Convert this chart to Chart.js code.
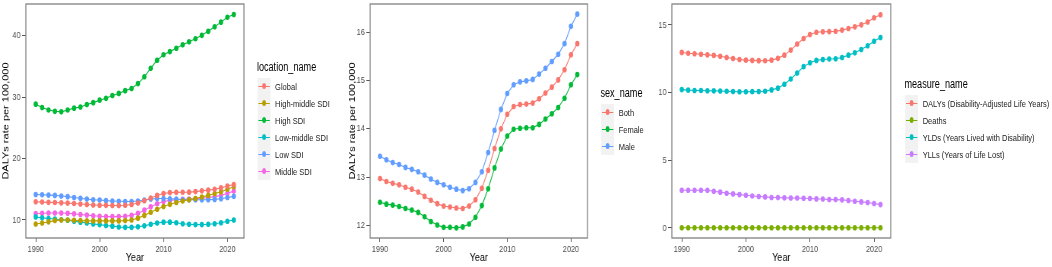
<!DOCTYPE html>
<html>
<head>
<meta charset="utf-8">
<script src="https://cdn.jsdelivr.net/npm/chart.js@4"></script>
<style>
  body { margin: 0; background: #fff; overflow: hidden; }
  #fig { position: absolute; left: 0; top: 0; width: 1384px; height: 267px;
         transform: scaleX(0.76); transform-origin: 0 0;
         font-family: "Liberation Sans", Arial, sans-serif; }
  #fig canvas { position: absolute; top: 0; }
  .lg-title { position: absolute; font-size: 12px; line-height: 14px; color: #000; white-space: nowrap; }
  .lg-key { position: absolute; width: 17px; height: 17px; background: #f2f2f2; }
  .lg-key .ln { position: absolute; left: 1px; right: 1px; top: 8px; height: 1.1px; }
  .lg-key .pt { position: absolute; left: 5.7px; top: 5.7px; width: 5.8px; height: 5.8px; border-radius: 50%; }
  .lg-text { position: absolute; font-size: 9.9px; line-height: 17px; color: #1a1a1a; white-space: nowrap; }
</style>
</head>
<body>
<div id="fig">
  <canvas id="c1" width="325" height="267" style="left:0px"></canvas>
  <canvas id="c2" width="321" height="267" style="left:456px"></canvas>
  <canvas id="c3" width="314" height="267" style="left:862px"></canvas>
</div>
<script>
const years = [1990, 1991, 1992, 1993, 1994, 1995, 1996, 1997, 1998, 1999, 2000, 2001, 2002, 2003, 2004, 2005,
  2006, 2007, 2008, 2009, 2010, 2011, 2012, 2013, 2014, 2015, 2016, 2017, 2018, 2019, 2020, 2021];
const yearTicks = [1990, 2000, 2010, 2020];

// panel 1: by location
const locationNames = ['Global', 'High-middle SDI', 'High SDI', 'Low-middle SDI', 'Low SDI', 'Middle SDI'];
const locationColors = ['#F8766D', '#B79F00', '#00BA38', '#00BFC4', '#619CFF', '#F564E3'];
const globalRate = [12.97, 12.91, 12.87, 12.84, 12.79, 12.75, 12.69, 12.60, 12.52, 12.45, 12.40, 12.38, 12.36, 12.35, 12.40, 12.53,
  12.77, 13.14, 13.59, 14.00, 14.30, 14.46, 14.50, 14.51, 14.53, 14.62, 14.74, 14.86, 15.01, 15.22, 15.53, 15.76];
const highMiddleRate = [9.35, 9.5, 9.7, 9.9, 10.0, 10.0, 9.95, 9.9, 9.85, 9.85, 9.85, 9.85, 9.85, 9.85, 9.9, 10.0,
  10.3, 10.75, 11.25, 11.75, 12.2, 12.55, 12.85, 13.1, 13.3, 13.5, 13.75, 14.0, 14.3, 14.6, 15.0, 15.4];
const highRate = [28.85, 28.3, 27.9, 27.7, 27.6, 27.9, 28.2, 28.4, 28.8, 29.1, 29.5, 29.8, 30.25, 30.6, 31.05, 31.4,
  32.2, 33.3, 34.7, 36.0, 36.9, 37.4, 37.95, 38.5, 39.0, 39.5, 40.05, 40.7, 41.45, 42.2, 43.0, 43.45];
const lowMiddleRate = [10.5, 10.35, 10.25, 10.15, 10.05, 9.95, 9.8, 9.65, 9.5, 9.35, 9.25, 9.1, 9.0, 8.85, 8.8, 8.8,
  8.9, 9.05, 9.3, 9.5, 9.65, 9.65, 9.55, 9.4, 9.3, 9.25, 9.25, 9.3, 9.4, 9.55, 9.8, 10.0];
const lowRate = [14.15, 14.1, 14.05, 14.0, 13.9, 13.8, 13.65, 13.55, 13.4, 13.3, 13.25, 13.15, 13.1, 13.05, 13.0, 13.0,
  13.1, 13.25, 13.4, 13.5, 13.5, 13.45, 13.4, 13.3, 13.3, 13.3, 13.3, 13.3, 13.35, 13.45, 13.65, 13.85];
const middleRate = [11.05, 11.1, 11.15, 11.15, 11.15, 11.1, 11.0, 10.9, 10.8, 10.7, 10.6, 10.55, 10.55, 10.55, 10.6, 10.75,
  11.1, 11.6, 12.15, 12.65, 13.0, 13.2, 13.3, 13.35, 13.4, 13.45, 13.55, 13.65, 13.8, 14.0, 14.35, 14.7];

// panel 2: by sex
const sexNames = ['Both', 'Female', 'Male'];
const sexColors = ['#F8766D', '#00BA38', '#619CFF'];
const bothRate = [12.97, 12.91, 12.87, 12.84, 12.79, 12.75, 12.69, 12.60, 12.52, 12.45, 12.40, 12.38, 12.36, 12.35, 12.40, 12.53,
  12.77, 13.14, 13.59, 14.00, 14.30, 14.46, 14.50, 14.51, 14.53, 14.62, 14.74, 14.86, 15.01, 15.22, 15.53, 15.76];
const femaleRate = [12.48, 12.44, 12.42, 12.39, 12.35, 12.32, 12.27, 12.18, 12.08, 12.01, 11.96, 11.96, 11.95, 11.97, 12.03, 12.17,
  12.41, 12.76, 13.19, 13.58, 13.85, 13.99, 14.01, 14.02, 14.02, 14.09, 14.20, 14.31, 14.44, 14.63, 14.91, 15.12];
const maleRate = [13.43, 13.36, 13.30, 13.26, 13.20, 13.16, 13.11, 13.04, 12.96, 12.89, 12.84, 12.79, 12.75, 12.72, 12.76, 12.89,
  13.11, 13.51, 13.97, 14.40, 14.73, 14.91, 14.97, 14.99, 15.02, 15.13, 15.25, 15.39, 15.54, 15.76, 16.12, 16.37];

// panel 3: by measure
const measureNames = ['DALYs (Disability-Adjusted Life Years)', 'Deaths', 'YLDs (Years Lived with Disability)', 'YLLs (Years of Life Lost)'];
const measureColors = ['#F8766D', '#7CAE00', '#00BFC4', '#C77CFF'];
const dalysRate = [12.97, 12.91, 12.87, 12.84, 12.79, 12.75, 12.69, 12.60, 12.52, 12.45, 12.40, 12.38, 12.36, 12.35, 12.40, 12.53,
  12.77, 13.14, 13.59, 14.00, 14.30, 14.46, 14.50, 14.51, 14.53, 14.62, 14.74, 14.86, 15.01, 15.22, 15.53, 15.76];
const deathsRate = [0.01, 0.01, 0.01, 0.01, 0.01, 0.01, 0.01, 0.01, 0.01, 0.01, 0.01, 0.01, 0.01, 0.01, 0.01, 0.01,
  0.01, 0.01, 0.01, 0.01, 0.01, 0.01, 0.01, 0.01, 0.01, 0.01, 0.01, 0.01, 0.01, 0.01, 0.01, 0.01];
const yldsRate = [10.22, 10.18, 10.16, 10.15, 10.14, 10.13, 10.12, 10.10, 10.08, 10.06, 10.06, 10.07, 10.08, 10.10, 10.20, 10.33,
  10.62, 11.01, 11.45, 11.92, 12.21, 12.38, 12.45, 12.48, 12.50, 12.60, 12.77, 12.94, 13.19, 13.46, 13.80, 14.07];
const yllsRate = [2.78, 2.78, 2.78, 2.78, 2.78, 2.71, 2.64, 2.56, 2.51, 2.46, 2.41, 2.36, 2.32, 2.29, 2.24, 2.24,
  2.22, 2.21, 2.20, 2.19, 2.17, 2.14, 2.13, 2.09, 2.09, 2.07, 2.02, 1.97, 1.92, 1.87, 1.80, 1.72];

const fontFamily = '"Liberation Sans", Arial, sans-serif';

// grey frame around the plot area, ggplot style
const panelBorder = {
  id: 'panelBorder',
  afterDatasetsDraw(chart) {
    const a = chart.chartArea;
    const ctx = chart.ctx;
    ctx.save();
    ctx.strokeStyle = '#808080';
    ctx.lineWidth = 1.3;
    ctx.strokeRect(a.left, a.top, a.right - a.left, a.bottom - a.top);
    ctx.restore();
  }
};

function makeChart(id, cfg) {
  const ctx = document.getElementById(id).getContext('2d');
  return new Chart(ctx, {
    type: 'line',
    data: {
      labels: years,
      datasets: cfg.series.map((vals, i) => ({
        label: cfg.names[i],
        data: vals,
        borderColor: cfg.colors[i],
        backgroundColor: cfg.colors[i],
        borderWidth: 1.1,
        pointRadius: 2.8,
        pointBorderWidth: 0,
        tension: 0
      }))
    },
    options: {
      responsive: false,
      animation: false,
      devicePixelRatio: 1,
      layout: { padding: { left: 0, right: 4, top: 2, bottom: 0 } },
      plugins: { legend: { display: false }, tooltip: { enabled: false } },
      scales: {
        x: {
          type: 'linear',
          min: 1988.45,
          max: 2022.6,
          afterBuildTicks: s => { s.ticks = yearTicks.map(v => ({ value: v })); },
          afterFit: s => { s.height = 29; s.paddingLeft = 0; s.paddingRight = 0; },
          border: { display: false },
          grid: { drawOnChartArea: false, drawTicks: true, tickLength: 4, tickColor: '#555' },
          ticks: { font: { family: fontFamily, size: 9.6 }, color: '#4d4d4d', padding: 1.5, maxRotation: 0,
                   callback: v => String(v) },
          title: { display: true, text: 'Year', font: { family: fontFamily, size: 11.8 }, color: '#000',
                   padding: { top: 0, bottom: 2.5 } }
        },
        y: {
          min: cfg.yMin,
          max: cfg.yMax,
          afterBuildTicks: s => { s.ticks = cfg.yTicks.map(v => ({ value: v })); },
          afterFit: s => { s.width = cfg.yWidth; s.paddingTop = 0; s.paddingBottom = 0; },
          border: { display: false },
          grid: { drawOnChartArea: false, drawTicks: true, tickLength: 5, tickColor: '#555' },
          ticks: { font: { family: fontFamily, size: 9.6 }, color: '#4d4d4d', padding: 2,
                   callback: v => String(v) },
          title: { display: !!cfg.yTitle, text: cfg.yTitle || '', font: { family: fontFamily, size: 11 },
                   color: '#000', padding: { top: 1, bottom: 0 } }
        }
      }
    },
    plugins: [panelBorder]
  });
}

function makeLegend(x, titleY, title, names, colors) {
  const fig = document.getElementById('fig');
  const t = document.createElement('div');
  t.className = 'lg-title';
  t.style.left = x + 'px';
  t.style.top = (titleY - 7) + 'px';
  t.textContent = title;
  fig.appendChild(t);
  const firstY = titleY + 19;
  names.forEach((name, i) => {
    const cy = firstY + i * 17;
    const key = document.createElement('div');
    key.className = 'lg-key';
    key.style.left = (x + 1) + 'px';
    key.style.top = (cy - 8.5) + 'px';
    key.innerHTML = '<div class="ln" style="background:' + colors[i] + '"></div>' +
                    '<div class="pt" style="background:' + colors[i] + '"></div>';
    fig.appendChild(key);
    const txt = document.createElement('div');
    txt.className = 'lg-text';
    txt.style.left = (x + 24) + 'px';
    txt.style.top = (cy - 8.5) + 'px';
    txt.textContent = name;
    fig.appendChild(txt);
  });
}

makeChart('c1', {
  names: locationNames, colors: locationColors,
  series: [globalRate, highMiddleRate, highRate, lowMiddleRate, lowRate, middleRate],
  yMin: 7.07, yMax: 45.15, yTicks: [10, 20, 30, 40], yWidth: 34, yTitle: 'DALYs rate per 100,000'
});
makeChart('c2', {
  names: sexNames, colors: sexColors,
  series: [bothRate, femaleRate, maleRate],
  yMin: 11.74, yMax: 16.58, yTicks: [12, 13, 14, 15, 16], yWidth: 31, yTitle: 'DALYs rate per 100,000'
});
makeChart('c3', {
  names: measureNames, colors: measureColors,
  series: [dalysRate, deathsRate, yldsRate, yllsRate],
  yMin: -0.75, yMax: 16.55, yTicks: [0, 5, 10, 15], yWidth: 22, yTitle: null
});

makeLegend(338, 67, 'location_name', locationNames, locationColors);
makeLegend(790, 93, 'sex_name', sexNames, sexColors);
makeLegend(1190, 84, 'measure_name', measureNames, measureColors);
</script>
</body>
</html>
